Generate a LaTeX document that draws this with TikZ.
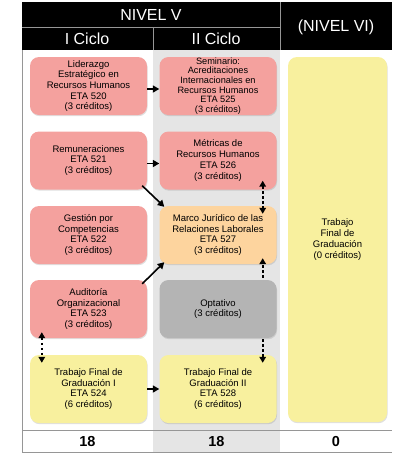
\documentclass[tikz,border=0pt]{standalone}
\usepackage{fontspec}
\setmainfont{Liberation Sans}
\usetikzlibrary{arrows.meta,shadows,calc}
\definecolor{rosa}{RGB}{244,161,158}
\definecolor{durazno}{RGB}{253,212,158}
\definecolor{gris}{RGB}{180,180,180}
\definecolor{amarillo}{RGB}{248,240,158}
\definecolor{fondo}{RGB}{229,229,229}
\definecolor{linea}{RGB}{150,150,150}
\tikzset{
	curso/.style={rounded corners=9pt,inner sep=0pt,minimum width=117pt,minimum height=58pt,align=center,
		font=\fontsize{9.5}{10.7}\selectfont,drop shadow={opacity=0.25,shadow xshift=0.6pt,shadow yshift=-1.2pt}},
	titulo/.style={text=white,font=\fontsize{16}{18}\selectfont},
	flecha/.style={line width=1.6pt,-{Triangle[length=6.5pt,width=7pt]}},
	punteada/.style={line width=1.6pt,dash pattern=on 2.5pt off 2.5pt,{Triangle[length=6pt,width=6.5pt]}-{Triangle[length=6pt,width=6.5pt]}},
	punteadafin/.style={line width=1.6pt,dash pattern=on 2.5pt off 2.5pt,-{Triangle[length=6pt,width=6.5pt]}}
}
\begin{document}
\begin{tikzpicture}[x=1pt,y=-1pt]
	\useasboundingbox (0,0) rectangle (392,456);
	\fill[fondo] (153,50) rectangle (280,452);
	\fill[black] (22,2) rectangle (392,50);
	\draw[linea,line width=0.6pt] (22,27) -- (280,27) (153,27) -- (153,50) (280,2) -- (280,50);
	\draw[linea,line width=0.6pt] (22,50) -- (22,452) (22,430) -- (392,430) (22,452) -- (392,452);
	\node[titulo] (n5) at (151,15) {NIVEL V};
	\node[titulo] (c1) at (87,38.5) {I Ciclo};
	\node[titulo] (c2) at (216,38.5) {II Ciclo};
	\node[titulo] (n6) at (336,27) {(NIVEL VI)};

	\node[curso,fill=rosa] (lid) at (88.5,86) {Liderazgo\\Estratégico en\\Recursos Humanos\\ETA 520\\(3 créditos)};
	\node[curso,fill=rosa] (rem) at (88.5,160.5) {Remuneraciones\\ETA 521\\(3 créditos)};
	\node[curso,fill=rosa] (ges) at (88.5,235) {Gestión por\\Competencias\\ETA 522\\(3 créditos)};
	\node[curso,fill=rosa] (aud) at (88.5,309) {Auditoría\\Organizacional\\ETA 523\\(3 créditos)};
	\node[curso,fill=amarillo,minimum height=68pt] (tfg1) at (88.5,389) {Trabajo Final de\\Graduación I\\ETA 524\\(6 créditos)};

	\node[curso,fill=rosa,font=\fontsize{9.2}{9.6}\selectfont] (sem) at (218,86) {Seminario:\\Acreditaciones\\Internacionales en\\Recursos Humanos\\ETA 525\\(3 créditos)};
	\node[curso,fill=rosa] (met) at (218,160.5) {Métricas de\\Recursos Humanos\\ETA 526\\(3 créditos)};
	\node[curso,fill=durazno] (mar) at (218,235) {Marco Jurídico de las\\Relaciones Laborales\\ETA 527\\(3 créditos)};
	\node[curso,fill=gris] (opt) at (218,309) {Optativo\\(3 créditos)};
	\node[curso,fill=amarillo,minimum height=68pt] (tfg2) at (218,389) {Trabajo Final de\\Graduación II\\ETA 528\\(6 créditos)};

	\node[curso,fill=amarillo,minimum width=99pt,minimum height=365pt] (tfg) at (337.5,239.5) {Trabajo\\Final de\\Graduación\\(0 créditos)};

	\draw[flecha] (lid.east) ++(0,3) -- ($(sem.west)+(0,3)$);
	\draw[flecha] (rem.east) ++(0,3) -- ($(met.west)+(0,3)$);
	\draw[flecha] ($(rem.south east)+(-5,-4)$) -- ($(mar.north west)+(5,1)$);
	\draw[flecha] ($(aud.north east)+(-5,4)$) -- ($(mar.south west)+(5,-2)$);
	\draw[flecha] (tfg1.east) -- (tfg2.west);
	\draw[punteada] ($(met.south east)+(-14,-9)$) -- ($(mar.north east)+(-14,8)$);
	\draw[punteada] ($(aud.south west)+(12,-6)$) -- ($(tfg1.north west)+(12,8)$);
	\draw[punteadafin] ($(opt.north east)+(-14,-2)$) -- ($(mar.south east)+(-14,-6)$);
	\draw[punteadafin] ($(opt.south east)+(-14,1)$) -- ($(tfg2.north east)+(-14,8)$);

	\node[font=\bfseries\fontsize{14.5}{16}\selectfont] (s1) at (87.5,441.5) {18};
	\node[font=\bfseries\fontsize{14.5}{16}\selectfont] (s2) at (216.5,441.5) {18};
	\node[font=\bfseries\fontsize{14.5}{16}\selectfont] (s3) at (336,441.5) {0};
\end{tikzpicture}
\end{document}
